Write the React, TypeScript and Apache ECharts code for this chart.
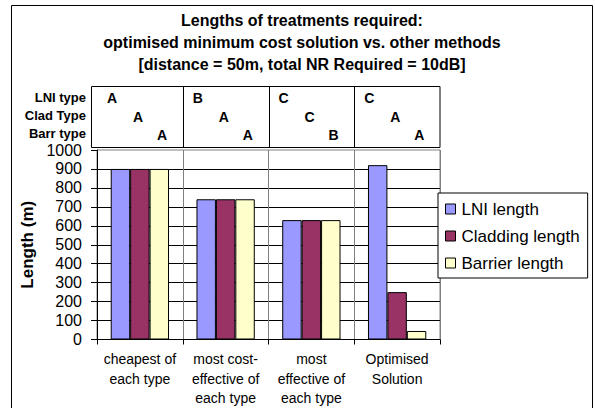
import React, { useEffect, useRef } from "react";
import * as echarts from "echarts";

// Category labels along the x axis
const categories = [
  "cheapest of\neach type",
  "most cost-\neffective of\neach type",
  "most\neffective of\neach type",
  "Optimised\nSolution",
];

// Treatment lengths (m) per method
const lniLength = [900, 740, 630, 920];
const claddingLength = [900, 740, 630, 250];
const barrierLength = [900, 740, 630, 45];

// Treatment types chosen by each method (table above the plot)
const tableRowLabels = ["LNI type", "Clad Type", "Barr type"];
const lniTypes = ["A", "B", "C", "C"];
const cladTypes = ["A", "A", "C", "A"];
const barrTypes = ["A", "A", "B", "A"];

const titleLines = [
  "Lengths of treatments required:",
  "optimised minimum cost solution vs. other methods",
  "[distance = 50m, total NR Required = 10dB]",
];

const FONT = "'Liberation Sans', Arial, Helvetica, sans-serif";
const W = 595;
const H = 408;
const GRID_LEFT = 97;
const GRID_TOP = 150;
const GRID_RIGHT = 155;
const GRID_BOTTOM = 65;

export default function App() {
  const ref = useRef<HTMLDivElement>(null);

  useEffect(() => {
    if (!ref.current) return;
    const chart = echarts.init(ref.current, undefined, { renderer: "svg" });

    const plotW = W - GRID_LEFT - GRID_RIGHT;
    const catW = plotW / categories.length;
    const tableTop = 86.5;
    const tableBottom = 147.5;
    const tableLeft = GRID_LEFT - 6;
    const rowY = [97, 115.5, 133.5];
    const letterPos = [0.175, 0.48, 0.76];
    const typeRows = [lniTypes, cladTypes, barrTypes];

    const graphics: any[] = [
      {
        type: "rect",
        shape: { x: 11.5, y: 5.5, width: 581, height: 420 },
        style: { fill: "none", stroke: "#000", lineWidth: 1 },
        silent: true,
      },
      {
        type: "rect",
        shape: {
          x: tableLeft + 0.5,
          y: tableTop,
          width: GRID_LEFT + plotW - tableLeft - 0.5,
          height: tableBottom - tableTop,
        },
        style: { fill: "#fff", stroke: "#000", lineWidth: 1 },
      },
    ];
    for (let i = 1; i < categories.length; i++) {
      const x = Math.round(GRID_LEFT + i * catW) + 0.5;
      graphics.push({
        type: "line",
        shape: { x1: x, y1: tableTop, x2: x, y2: tableBottom },
        style: { stroke: "#000", lineWidth: 1 },
      });
    }
    tableRowLabels.forEach((lab, r) => {
      graphics.push({
        type: "text",
        x: 86,
        y: rowY[r],
        style: {
          text: lab,
          font: `bold 13px ${FONT}`,
          fill: "#000",
          align: "right",
          verticalAlign: "middle",
        },
      });
      typeRows[r].forEach((t, c) => {
        graphics.push({
          type: "text",
          x: GRID_LEFT + c * catW + letterPos[r] * catW,
          y: rowY[r] + 1,
          style: {
            text: t,
            font: `bold 14px ${FONT}`,
            fill: "#000",
            align: "center",
            verticalAlign: "middle",
          },
        });
      });
    });

    const barStyle = (color: string) => ({
      color,
      borderColor: "#000",
      borderWidth: 1,
    });

    chart.setOption({
      animation: false,
      backgroundColor: "#fff",
      textStyle: { fontFamily: FONT },
      title: {
        text: titleLines.join("\n"),
        left: 302,
        top: 10,
        textAlign: "center",
        padding: 0,
        textStyle: {
          fontFamily: FONT,
          fontSize: 16,
          fontWeight: "bold",
          color: "#000",
          lineHeight: 21.7,
        },
      },
      legend: {
        orient: "vertical",
        left: 438,
        top: 193,
        padding: [7, 8, 6, 7],
        itemWidth: 10,
        itemHeight: 10,
        itemGap: 9,
        backgroundColor: "#fff",
        borderColor: "#000",
        borderWidth: 1,
        borderRadius: 0,
        icon: "rect",
        itemStyle: { borderColor: "#000", borderWidth: 1 },
        textStyle: {
          fontFamily: FONT,
          fontSize: 17,
          color: "#000",
          lineHeight: 18,
          padding: [0, 0, 0, 1],
        },
        data: ["LNI length", "Cladding length", "Barrier length"],
      },
      grid: {
        left: GRID_LEFT,
        top: GRID_TOP,
        right: GRID_RIGHT,
        bottom: GRID_BOTTOM,
        show: true,
        borderColor: "#808080",
        borderWidth: 1,
        backgroundColor: "#fff",
      },
      xAxis: {
        type: "category",
        data: categories,
        axisLine: { show: true, lineStyle: { color: "#000", width: 1 } },
        axisTick: { show: true, length: 5, lineStyle: { color: "#000" } },
        axisLabel: {
          color: "#000",
          fontSize: 14,
          lineHeight: 19.5,
          margin: 10,
          interval: 0,
          fontFamily: FONT,
        },
        splitLine: { show: true, lineStyle: { color: "#808080", width: 1 } },
      },
      yAxis: {
        type: "value",
        min: 0,
        max: 1000,
        interval: 100,
        name: "Length (m)",
        nameLocation: "middle",
        nameRotate: 90,
        nameGap: 56,
        nameTextStyle: {
          fontFamily: FONT,
          fontSize: 17,
          fontWeight: "bold",
          color: "#000",
        },
        axisLine: { show: true, lineStyle: { color: "#000", width: 1 } },
        axisTick: { show: true, length: 6, lineStyle: { color: "#000" } },
        axisLabel: {
          color: "#000",
          fontSize: 16,
          margin: 15,
          fontFamily: FONT,
          formatter: (v: number) => String(v),
        },
        splitLine: {
          show: true,
          showMaxLine: false,
          lineStyle: { color: "#000", width: 1 },
        },
      },
      series: [
        {
          name: "LNI length",
          type: "bar",
          data: lniLength,
          barGap: "0%",
          barCategoryGap: "32%",
          itemStyle: barStyle("#9999FF"),
        },
        {
          name: "Cladding length",
          type: "bar",
          data: claddingLength,
          itemStyle: barStyle("#993366"),
        },
        {
          name: "Barrier length",
          type: "bar",
          data: barrierLength,
          itemStyle: barStyle("#FFFFCC"),
        },
      ],
      graphic: graphics,
    });

    return () => chart.dispose();
  }, []);

  return (
    <div
      ref={ref}
      style={{ position: "fixed", left: 0, top: 0, width: W, height: H }}
    />
  );
}
